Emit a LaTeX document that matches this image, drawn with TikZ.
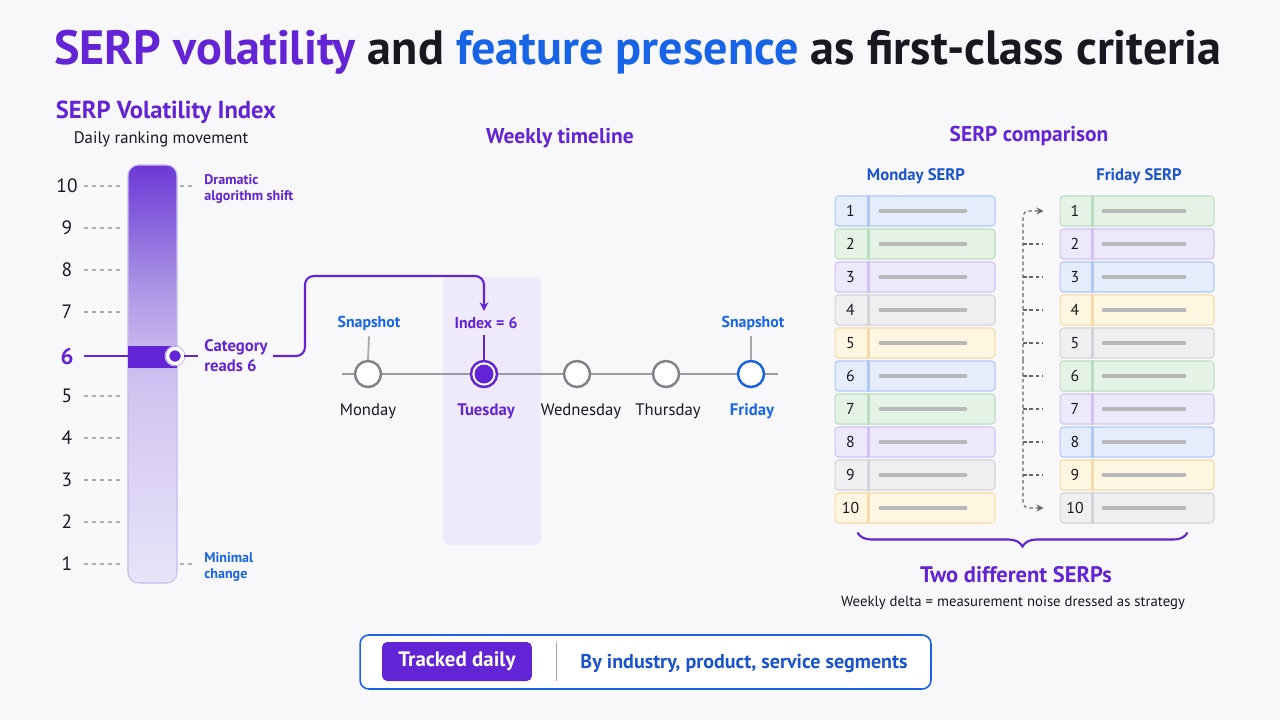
\documentclass[tikz,border=0pt]{standalone}
\usepackage{fontspec}
\setmainfont{PT Sans}
\usepackage{tikz}
\usetikzlibrary{arrows.meta, positioning, calc, decorations.pathreplacing}
\definecolor{bgpage}{RGB}{248,248,251}
\definecolor{vpurple}{RGB}{98,36,212}
\definecolor{fblue}{RGB}{24,100,230}
\definecolor{segblue}{RGB}{26,84,204}
\definecolor{inkdark}{RGB}{24,24,32}
\definecolor{midgray}{RGB}{128,130,136}
\definecolor{dashgray}{RGB}{175,175,182}
\definecolor{baredge}{RGB}{200,188,236}
\definecolor{tuehl}{RGB}{238,233,251}
% row colours (fill / line)
\definecolor{rbluef}{RGB}{229,237,252}\definecolor{rbluel}{RGB}{176,200,245}
\definecolor{rgreenf}{RGB}{228,243,230}\definecolor{rgreenl}{RGB}{188,222,192}
\definecolor{rpurplef}{RGB}{238,232,251}\definecolor{rpurplel}{RGB}{208,194,242}
\definecolor{rgrayf}{RGB}{239,239,241}\definecolor{rgrayl}{RGB}{212,212,216}
\definecolor{ryellowf}{RGB}{255,246,226}\definecolor{ryellowl}{RGB}{244,220,168}
% volatility bar shading
\pgfdeclareverticalshading{volbar}{100bp}{color(0bp)=(rgb,255:red,233;green,228;blue,249);
  color(25bp)=(rgb,255:red,233;green,228;blue,249);
  color(47bp)=(rgb,255:red,210;green,198;blue,241);
  color(53bp)=(rgb,255:red,198;green,181;blue,238);
  color(59bp)=(rgb,255:red,179;green,156;blue,231);
  color(65bp)=(rgb,255:red,150;green,119;blue,223);
  color(75bp)=(rgb,255:red,108;green,56;blue,214);
  color(100bp)=(rgb,255:red,108;green,56;blue,214)}
\tikzset{
  heading/.style={font=\bfseries\fontsize{12.2}{14}\selectfont, text=vpurple},
  subhead/.style={font=\bfseries\fontsize{9.5}{11}\selectfont, text=segblue},
  scalenum/.style={font=\fontsize{11}{12}\selectfont, text=inkdark},
  gridtick/.style={dash pattern=on 2.5pt off 2pt, color=dashgray, line width=0.6pt},
  sidenote/.style={font=\bfseries\fontsize{8}{9.5}\selectfont, align=left, anchor=west, inner sep=0pt},
  daydot/.style={circle, draw=midgray, fill=white, line width=1.4pt, minimum size=0.52cm, inner sep=0pt},
  daylabel/.style={font=\fontsize{9.5}{11}\selectfont, text=inkdark},
  snaplabel/.style={font=\bfseries\fontsize{9}{11}\selectfont, text=fblue},
  serprow/.style={rectangle, rounded corners=2pt, minimum height=0.6cm, line width=0.6pt, inner sep=0pt},
  rownum/.style={font=\fontsize{9}{10}\selectfont, text=inkdark},
  rowbar/.style={line width=2.2pt, color=black!28, line cap=round},
  shiftline/.style={dash pattern=on 2pt off 1.6pt, color=black!60, line width=0.6pt},
  flow/.style={-{Stealth[length=5pt,width=5pt]}, line width=1.2pt, color=vpurple, rounded corners=5pt}
}
\begin{document}
\begin{tikzpicture}[x=0.02cm, y=-0.02cm]
  \fill[bgpage] (0,0) rectangle (1280,720);
  \useasboundingbox (0,0) rectangle (1280,720);

  % Title
  \node[font=\bfseries\fontsize{27.4}{30}\selectfont] (title) at (638,52)
    {\textcolor{vpurple}{SERP volatility} \textcolor{inkdark}{and} \textcolor{fblue}{feature presence} \textcolor{inkdark}{as first-class criteria}};

  % Volatility index
  \node[heading, font=\bfseries\fontsize{14}{16}\selectfont] (volhead) at (166,112) {SERP Volatility Index};
  \node[font=\fontsize{9.5}{11}\selectfont, text=inkdark] (volsub) at (161,139) {Daily ranking movement};
  \shade[shading=volbar, draw=baredge, line width=0.6pt, rounded corners=6pt] (128,165) rectangle (177,583);
  \foreach \n in {1,2,3,4,5,7,8,9,10} {
    \pgfmathsetmacro{\yy}{564-(\n-1)*42}
    \node[scalenum] (lvl\n) at (67,\yy) {\n};
    \draw[gridtick] (84,\yy) -- (122,\yy);
  }
  \draw[gridtick] (180,186) -- (195,186);
  \draw[gridtick] (180,564) -- (195,564);
  \node[sidenote, text=vpurple] (topnote) at (204,189) {Dramatic\\algorithm shift};
  \node[sidenote, text=fblue] (lownote) at (204,567) {Minimal\\change};

  % Level 6 reading
  \node[font=\bfseries\fontsize{13}{14}\selectfont, text=vpurple] (lvl6) at (67,356) {6};
  \node[sidenote, font=\bfseries\fontsize{9.5}{11.5}\selectfont, text=vpurple] (cat6) at (204,356) {Category\\reads 6};
  \draw[vpurple, line width=1.2pt] (84,356) -- (128,356);
  \fill[vpurple] (128,346) rectangle (177,368);
  \node[circle, fill=vpurple, draw=white, line width=2pt, minimum size=0.3cm, inner sep=0pt] (marker) at (175,356) {};
  \draw[baredge, line width=0.5pt] (marker) circle (0.2cm);
  \draw[vpurple, line width=1.2pt] (marker.east) -- ([xshift=-0.12cm]cat6.west);

  % Weekly timeline
  \node[heading] (weekhead) at (560,138) {Weekly timeline};
  \fill[tuehl, rounded corners=4pt] (443,277) rectangle (541,545);
  \coordinate (tlstart) at (342,374);
  \coordinate (tlend) at (778,374);
  \draw[midgray!80, line width=1.3pt] (tlstart) -- (tlend);
  \node[daydot] (d1) at (368,374) {};
  \node[daydot, draw=vpurple] (d2) at (484,374) {};
  \node[circle, fill=vpurple, minimum size=0.38cm, inner sep=0pt] (d2core) at (d2) {};
  \node[daydot] (d3) at (577,374) {};
  \node[daydot] (d4) at (666,374) {};
  \node[daydot, draw=fblue] (d5) at (751,374) {};
  \node[daylabel] (mon) at (368,411) {Monday};
  \node[daylabel, font=\bfseries\fontsize{9.5}{11}\selectfont, text=vpurple] (tue) at (486,411) {Tuesday};
  \node[daylabel] (wed) at (581,411) {Wednesday};
  \node[daylabel] (thu) at (668,411) {Thursday};
  \node[daylabel, font=\bfseries\fontsize{9.5}{11}\selectfont, text=fblue] (fri) at (752,411) {Friday};
  \node[snaplabel] (snap1) at (369,323) {Snapshot};
  \node[snaplabel, text=vpurple] (idx) at (486,323) {Index = 6};
  \node[snaplabel] (snap5) at (753,323) {Snapshot};
  \draw[midgray!70, line width=1pt] (snap1.south) -- (d1.north);
  \draw[vpurple, line width=1pt] (idx.south -| d2.north) -- (d2.north);
  \draw[midgray!70, line width=1pt] (snap5.south -| d5.north) -- (d5.north);

  % Category reading feeds Tuesday
  \coordinate (bend) at (305,276);
  \draw[flow] ([xshift=0.1cm]cat6.east) -| (bend) -| (d2.north |- idx.north);

  % SERP comparison
  \node[heading] (cmphead) at (1029,136) {SERP comparison};
  \node[subhead] (monhead) at (916,176) {Monday SERP};
  \node[subhead] (frihead) at (1139,176) {Friday SERP};
  \foreach \i/\col in {1/rblue,2/rgreen,3/rpurple,4/rgray,5/ryellow,6/rblue,7/rgreen,8/rpurple,9/rgray,10/ryellow} {
    \pgfmathsetmacro{\yy}{211+(\i-1)*33}
    \node[serprow, fill=\col f, draw=\col l, minimum width=3.2cm] (mon\i) at (915,\yy) {};
    \draw[\col l, line width=1.6pt] ([xshift=0.68cm]mon\i.north west) -- ([xshift=0.68cm]mon\i.south west);
    \node[rownum] (monn\i) at ([xshift=0.32cm]mon\i.west) {\i};
    \draw[rowbar] ([xshift=0.92cm]mon\i.west) -- ([xshift=2.62cm]mon\i.west);
  }
  \foreach \i/\col in {1/rgreen,2/rpurple,3/rblue,4/ryellow,5/rgray,6/rgreen,7/rpurple,8/rblue,9/ryellow,10/rgray} {
    \pgfmathsetmacro{\yy}{211+(\i-1)*33}
    \node[serprow, fill=\col f, draw=\col l, minimum width=3.08cm] (fri\i) at (1137,\yy) {};
    \draw[\col l, line width=1.6pt] ([xshift=0.66cm]fri\i.north west) -- ([xshift=0.66cm]fri\i.south west);
    \node[rownum] (frin\i) at ([xshift=0.31cm]fri\i.west) {\i};
    \draw[rowbar] ([xshift=0.88cm]fri\i.west) -- ([xshift=2.5cm]fri\i.west);
  }
  % Rank shifts
  \coordinate (shmid) at (1023,360);
  \draw[shiftline, -{Stealth[length=4pt,width=4pt]}, shorten >=0.32cm, rounded corners=3pt] (shmid) |- (fri1.west);
  \draw[shiftline, -{Stealth[length=4pt,width=4pt]}, shorten >=0.32cm, rounded corners=3pt] (shmid) |- (fri10.west);
  \foreach \i in {2,...,9}
    \draw[shiftline, shorten >=0.34cm] (shmid |- fri\i.west) -- (fri\i.west);

  \draw[vpurple, line width=1.2pt, decorate, decoration={brace, mirror, amplitude=0.28cm}]
    ([shift={(0.46cm,-0.18cm)}]mon10.south west) -- ([shift={(-0.54cm,-0.18cm)}]fri10.south east);
  \node[font=\bfseries\fontsize{12.8}{15}\selectfont, text=vpurple] (twoserps) at (1016,575) {Two different SERPs};
  \node[font=\fontsize{8.4}{10}\selectfont, text=inkdark] (delta) at (1013,603) {Weekly delta = measurement noise dressed as strategy};

  % Footer
  \node[draw=fblue, fill=white, rounded corners=5pt, line width=0.9pt, minimum width=11.42cm, minimum height=1.08cm] (footer) at (645.5,662) {};
  \node[fill=vpurple, rounded corners=3pt, text=white, font=\bfseries\fontsize{11.9}{13}\selectfont, minimum width=3cm, minimum height=0.78cm] (daily) at (457,661.5) {Tracked daily};
  \draw[black!35, line width=0.8pt] ([xshift=3.94cm]footer.north west |- daily.north) -- ([xshift=3.94cm]footer.south west |- daily.south);
  \node[font=\bfseries\fontsize{11.4}{13}\selectfont, text=segblue] (segs) at (744,663) {By industry, product, service segments};
\end{tikzpicture}
\end{document}
